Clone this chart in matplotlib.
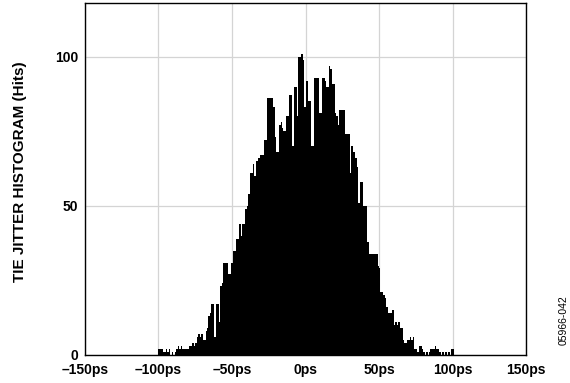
import matplotlib
matplotlib.use("Agg")
import matplotlib.pyplot as plt
import numpy as np

# Histogram bins: left edge (ps), 1 ps wide, from -101 to 102
bin_start = -101
bin_width = 1.0
hits = [
    0, 2, 2, 2, 1, 1, 2, 1, 2, 0,          # -101 .. -92
    1, 0, 1, 2, 3, 2, 3, 2, 2, 2,          # -91 .. -82
    2, 2, 3, 3, 4, 3, 4, 6, 7, 6,          # -81 .. -72
    7, 5, 5, 8, 9, 13, 14, 17, 17, 6,      # -71 .. -62
    17, 17, 11, 23, 24, 31, 31, 31, 27, 27,  # -61 .. -52
    31, 31, 35, 35, 39, 39, 44, 40, 44, 44,  # -51 .. -42
    49, 50, 54, 61, 61, 64, 60, 65, 65, 66,  # -41 .. -32
    67, 67, 67, 72, 72, 86, 86, 86, 86, 83,  # -31 .. -22
    73, 68, 68, 77, 78, 76, 75, 75, 80, 80,  # -21 .. -12
    87, 87, 70, 90, 90, 80, 100, 100, 101, 99,  # -11 .. -2
    83, 92, 92, 85, 85, 70, 70, 93, 93, 93,  # -1 .. 8
    81, 81, 93, 93, 92, 90, 90, 97, 96, 91,  # 9 .. 18
    91, 81, 80, 77, 82, 82, 82, 82, 74, 74,  # 19 .. 28
    74, 61, 70, 68, 68, 66, 63, 51, 58, 58,  # 29 .. 38
    50, 50, 50, 38, 34, 34, 34, 34, 34, 34,  # 39 .. 48
    30, 29, 21, 21, 20, 19, 16, 14, 14, 14,  # 49 .. 58
    15, 10, 11, 10, 11, 9, 9, 5, 4, 4,     # 59 .. 68
    5, 5, 6, 5, 6, 2, 2, 1, 3, 3,          # 69 .. 78
    2, 1, 0, 1, 0, 1, 2, 2, 2, 3,          # 79 .. 88
    2, 2, 1, 0, 1, 0, 1, 0, 1, 0,          # 89 .. 98
    2, 2, 0, 0,                            # 99 .. 102
]
x_ticks = [-150, -100, -50, 0, 50, 100, 150]
x_tick_labels = ["\u2013150ps", "\u2013100ps", "\u201350ps", "0ps", "50ps", "100ps", "150ps"]
y_ticks = [0, 50, 100]
y_label = "TIE JITTER HISTOGRAM (Hits)"
code_label = "05966-042"

plt.rcParams['font.family'] = ['Liberation Sans', 'DejaVu Sans']

fig = plt.figure(figsize=(5.70, 3.83), dpi=100)
ax = fig.add_axes([85/570, (383-355)/383, (526-85)/570, (355-3)/383])

lefts = bin_start + bin_width * np.arange(len(hits))
ax.bar(lefts, hits, width=bin_width, align='edge', color='black',
       edgecolor='none', linewidth=0, zorder=3)

ax.set_xlim(-150, 150)
ax.set_ylim(0, 118)
ax.set_xticks(x_ticks)
ax.set_xticklabels(x_tick_labels, fontsize=10, fontweight='bold')
ax.set_yticks(y_ticks)
ax.set_yticklabels([str(v) for v in y_ticks], fontsize=10, fontweight='bold')
ax.tick_params(axis='y', length=0, pad=5)
ax.tick_params(axis='x', length=0, pad=6)
ax.grid(True, color='#d4d4d4', linewidth=0.9, zorder=0)
ax.set_axisbelow(True)
for s in ax.spines.values():
    s.set_linewidth(1.0)
    s.set_color('black')
    s.set_zorder(4)

ax.set_ylabel(y_label, fontsize=11, fontweight='bold')
ax.yaxis.set_label_coords(-58/441, 0.52)
fig.text(564/570, 1 - 320/383, code_label, rotation=90, fontsize=7.5,
         ha='center', va='center')

fig.savefig("out.png", dpi=100)
